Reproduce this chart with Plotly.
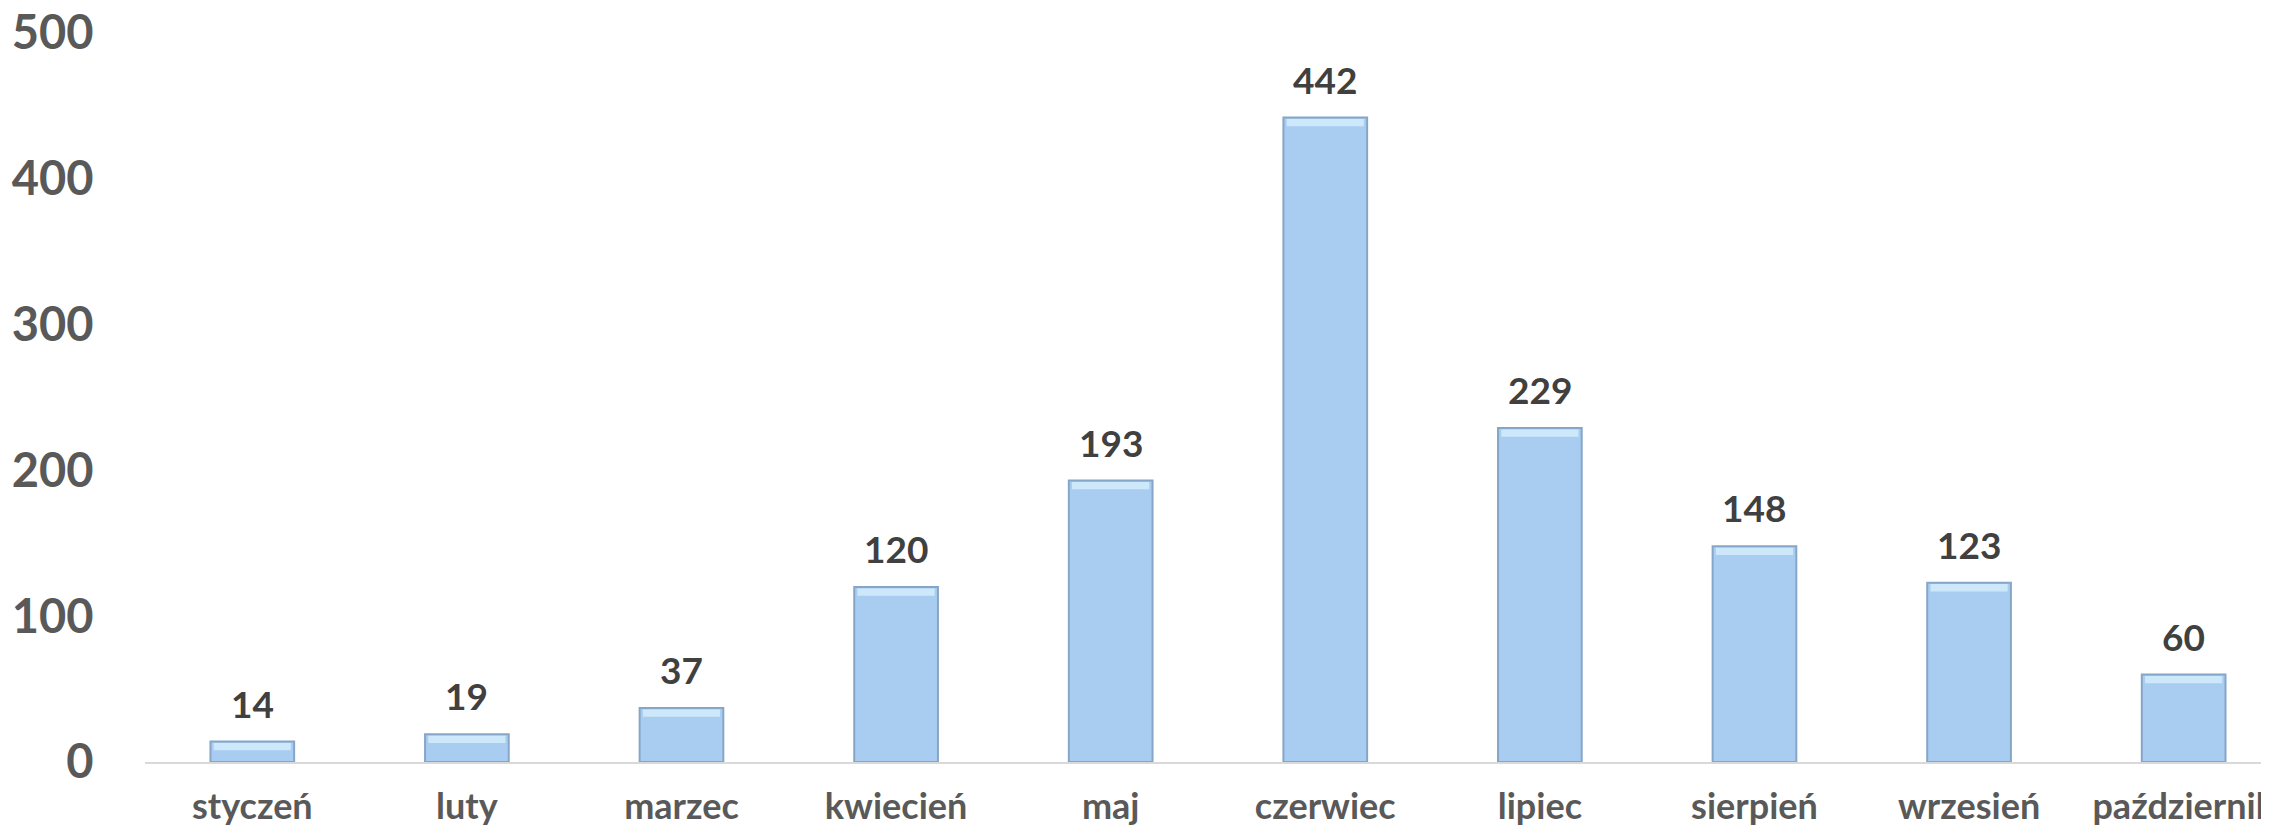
import plotly.graph_objects as go

months = ["styczeń", "luty", "marzec", "kwiecień", "maj", "czerwiec",
          "lipiec", "sierpień", "wrzesień", "październik"]
counts = [14, 19, 37, 120, 193, 442, 229, 148, 123, 60]
y_ticks = [0, 100, 200, 300, 400, 500]

BAR_W = 0.39
FONT = "Lato"

fig = go.Figure()
fig.add_trace(go.Bar(
    x=months, y=counts, width=BAR_W,
    marker=dict(color="#A8CDF1", line=dict(color="#86A6C8", width=2)),
    hoverinfo="x+y",
))
# top bevel highlight
fig.add_trace(go.Bar(
    x=months, y=[5] * len(counts), base=[c - 6 for c in counts], width=BAR_W - 0.03,
    marker=dict(color="#CDE8FA", line=dict(width=0)),
    hoverinfo="skip",
))

for m, c in zip(months, counts):
    fig.add_annotation(x=m, y=c, text=str(c), showarrow=False,
                       yanchor="bottom", yshift=14,
                       font=dict(family=FONT, size=37, color="#404040", weight="bold"))

fig.update_layout(
    width=2269, height=829,
    margin=dict(l=137, r=0, t=25, b=75),
    paper_bgcolor="white", plot_bgcolor="white",
    showlegend=False, barmode="overlay",
    xaxis=dict(range=[-0.5, 9.435], showgrid=False, showline=True, automargin=False,
               linecolor="#D9D9D9", linewidth=2, zeroline=False,
               ticklabeloverflow="allow",
               tickfont=dict(family=FONT, size=36, color="#595959", weight="bold"),
               ticks="outside", ticklen=12, tickcolor="rgba(0,0,0,0)"),
    yaxis=dict(range=[0, 500], tickvals=y_ticks, showgrid=False, zeroline=False,
               showline=False, automargin=False, ticklabeloverflow="allow",
               tickfont=dict(family=FONT, size=47, color="#595959", weight="bold"),
               ticks="outside", ticklen=41, tickcolor="rgba(0,0,0,0)"),
)

fig.write_html("out.html")
